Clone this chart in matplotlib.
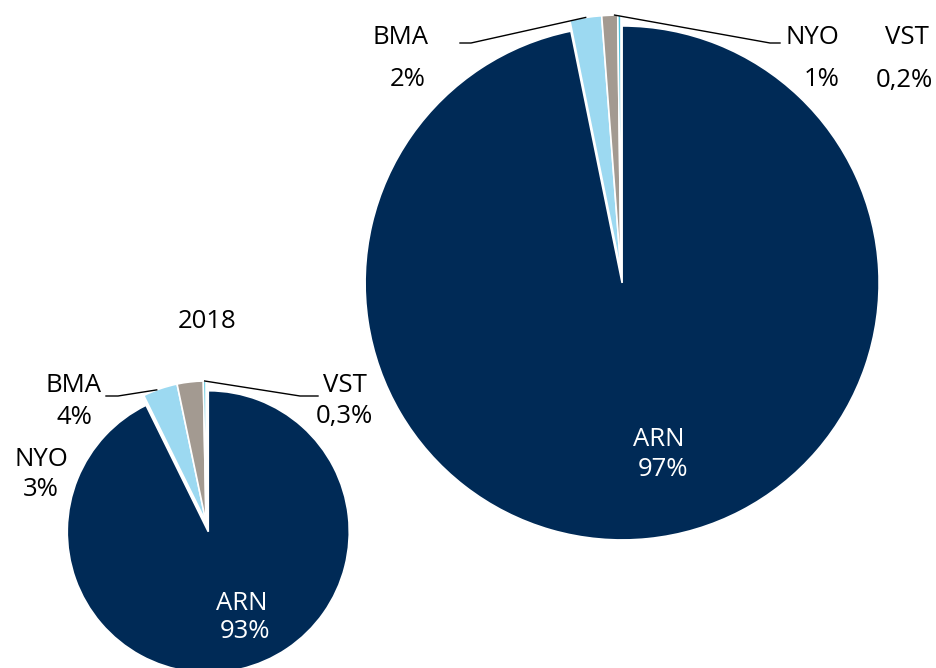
import numpy as np
import matplotlib
matplotlib.use('Agg')
import matplotlib.pyplot as plt

plt.rcParams['font.family'] = ['Open Sans', 'DejaVu Sans']

# data
categories = ['ARN', 'BMA', 'NYO', 'VST']
values_2018 = [93, 4, 3, 0.3]
labels_2018 = ['93%', '4%', '3%', '0,3%']
values_big = [97, 2, 1, 0.2]
labels_big = ['97%', '2%', '1%', '0,2%']
title_small = '2018'

colors = ['#002a56', '#9cd9f1', '#a39a91', '#4fc3dc']

W, H = 937, 668
fig = plt.figure(figsize=(W / 100, H / 100), dpi=100)
ax = fig.add_axes([0, 0, 1, 1])


def py(y):
    # pixel y (top-down) -> data y
    return H - y


def draw_pie(vals, cx, cy, r, expl):
    # explode is in data units (pixels here)
    wedges, _ = ax.pie(vals, colors=colors, startangle=90, counterclock=False,
                       center=(cx, py(cy)), radius=r,
                       explode=[expl, 0, 0, 0],
                       wedgeprops=dict(edgecolor='white', linewidth=1.2))
    return wedges


def arc_point(w, frac):
    th = np.deg2rad(w.theta1 + (w.theta2 - w.theta1) * frac)
    return w.center[0] + w.r * np.cos(th), w.center[1] + w.r * np.sin(th)


fs = 18.5

# small pie (2018)
ws = draw_pie(values_2018, 206, 522, 141, 10)
# big pie
wb = draw_pie(values_big, 621, 272, 257, 11)

ax.set_xlim(0, W)
ax.set_ylim(0, H)
ax.set_aspect('equal')
ax.axis('off')

ax.text(207, py(322), title_small, ha='center', va='center', fontsize=fs)
ax.text(242, py(604), categories[0], color='white', ha='center', va='center', fontsize=fs)
ax.text(245, py(632), labels_2018[0], color='white', ha='center', va='center', fontsize=fs)

x0, y0 = arc_point(ws[1], 0.6)
ax.plot([106, 118, x0], [py(396), py(396), y0], color='black', lw=1)
ax.text(74, py(386), categories[1], ha='center', va='center', fontsize=fs)
ax.text(74, py(417), labels_2018[1], ha='center', va='center', fontsize=fs)

ax.text(41, py(460), categories[2], ha='center', va='center', fontsize=fs)
ax.text(41, py(489), labels_2018[2], ha='center', va='center', fontsize=fs)

x0, y0 = arc_point(ws[3], 0.5)
ax.plot([x0, 300, 318], [y0, py(396), py(396)], color='black', lw=1)
ax.text(345, py(386), categories[3], ha='center', va='center', fontsize=fs)
ax.text(344, py(417), labels_2018[3], ha='center', va='center', fontsize=fs)

ax.text(659, py(440), categories[0], color='white', ha='center', va='center', fontsize=fs)
ax.text(663, py(470), labels_big[0], color='white', ha='center', va='center', fontsize=fs)

x0, y0 = arc_point(wb[1], 0.5)
ax.plot([460, 471, x0], [py(43), py(43), y0], color='black', lw=1)
ax.text(401, py(37), categories[1], ha='center', va='center', fontsize=fs)
ax.text(408, py(80), labels_big[1], ha='center', va='center', fontsize=fs)

x0, y0 = arc_point(wb[2], 0.2)
ax.plot([x0, 770, 780], [y0, py(43), py(43)], color='black', lw=1)
ax.text(812, py(37), categories[2], ha='center', va='center', fontsize=fs)
ax.text(822, py(80), labels_big[2], ha='center', va='center', fontsize=fs)

ax.text(907, py(37), categories[3], ha='center', va='center', fontsize=fs)
ax.text(904, py(80), labels_big[3], ha='center', va='center', fontsize=fs)

fig.savefig('out.png', dpi=100)
